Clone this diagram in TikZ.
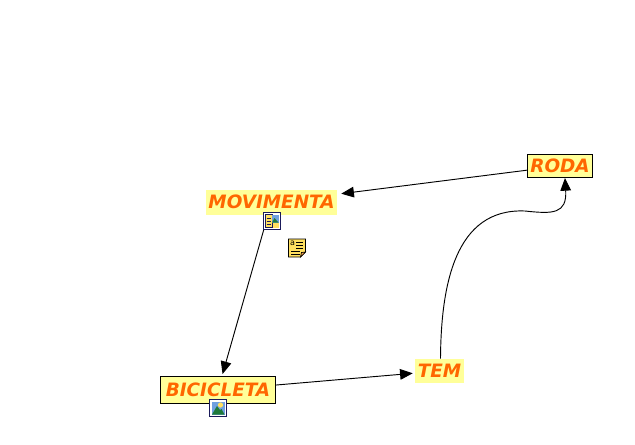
\documentclass[tikz,border=0pt]{standalone}
\usepackage{fontspec}
\setmainfont{DejaVu Sans}
\usetikzlibrary{arrows.meta}
\definecolor{paleyellow}{HTML}{FFFF99}
\definecolor{conceptorange}{HTML}{FF6600}
\definecolor{iconnavy}{HTML}{1A1A5A}
\definecolor{iconblue}{HTML}{6FA0E0}
\definecolor{icongreen}{HTML}{1F7A3A}
\definecolor{iconyellow}{HTML}{FFE060}
\tikzset{
    concept/.style={fill=paleyellow, text=conceptorange, inner sep=0pt,
        font=\fontsize{13.8}{15}\selectfont\bfseries\itshape},
    boxed/.style={concept, draw=black, line width=0.75pt},
    link/.style={-{Triangle[length=9.5pt,width=8pt]}, black, line width=0.7pt},
    picicon/.pic={
        \draw[iconnavy, fill=white, line width=1.1pt] (-8.5,-8.5) rectangle (8.5,8.5);
        \fill[iconblue] (-6,-6.5) rectangle (6.5,6.5);
        \fill[iconyellow] (2.5,-3) circle (2.6);
        \fill[icongreen] (-6,6.5) -- (-1,-2) -- (2,2) -- (3.5,1) -- (6.5,6.5) -- cycle;
    },
    docicon/.pic={
        \draw[iconnavy, fill=white, line width=1.1pt] (-8.5,-8.5) rectangle (8.5,8.5);
        \fill[iconyellow] (-6.5,-6.5) rectangle (0,6.5);
        \draw[iconnavy, line width=0.4pt] (-6.5,-6.5) rectangle (0,6.5);
        \foreach \y in {-3,0,3} {
            \draw[iconnavy, line width=0.7pt] (-5.5,\y) -- (-1,\y);
        }
        \fill[iconblue] (0,-6.5) rectangle (6.5,1.5);
        \fill[icongreen] (0,1.5) -- (2.5,-3) -- (6.5,1.5) -- cycle;
        \fill[iconyellow] (1,1.5) rectangle (6.5,6.5);
    },
    noteicon/.pic={
        \draw[black, fill=iconyellow, line width=0.7pt] (-8.5,-9) -- (8.5,-9) -- (8.5,4) -- (3.5,9) -- (-8.5,9) -- cycle;
        \draw[black, fill=orange!70, line width=0.5pt] (3.5,9) -- (4.5,4.5) -- (8.5,4) -- cycle;
        \node[inner sep=0pt, font=\fontsize{6}{6}\selectfont] (a) at (-4.5,-4.5) {a};
        \foreach \y in {-6,-3,0} {
            \draw[black, line width=0.7pt] (-1,\y) -- (6,\y);
        }
        \foreach \y in {3,6} {
            \draw[black, line width=0.7pt] (-6,\y) -- (3,\y);
        }
    }
}
\begin{document}
\begin{tikzpicture}[x=0.75pt, y=-0.75pt]
    \useasboundingbox (0,0) rectangle (635,444);

    \node[concept, minimum width=98.25pt, minimum height=18.75pt, text depth=1pt] (movimenta) at (271.5,202.5) {MOVIMENTA};
    \node[boxed, minimum width=86.25pt, minimum height=20.25pt, text depth=1pt] (bicicleta) at (218,390) {BICICLETA};
    \node[concept, minimum width=36.75pt, minimum height=18pt] (tem) at (439.5,371) {TEM};
    \node[boxed, minimum width=48.75pt, minimum height=17.25pt] (roda) at (560,166) {RODA};

    \draw[link, shorten >=3pt] (roda) -- (movimenta);
    \draw[link, shorten >=1.5pt] (movimenta) -- (bicicleta);
    \draw[link, shorten >=1.5pt] (bicicleta) -- (tem);
    \draw[link] ([xshift=0.75pt]tem.north) .. controls (441,285) and (455,208) .. (525,211)
        .. controls (553,214) and (567,214) .. ([xshift=3.75pt]roda.south);

    \pic at (272,221) {docicon};
    \pic at (218,408) {picicon};
    \pic at (297,248) {noteicon};
\end{tikzpicture}
\end{document}
